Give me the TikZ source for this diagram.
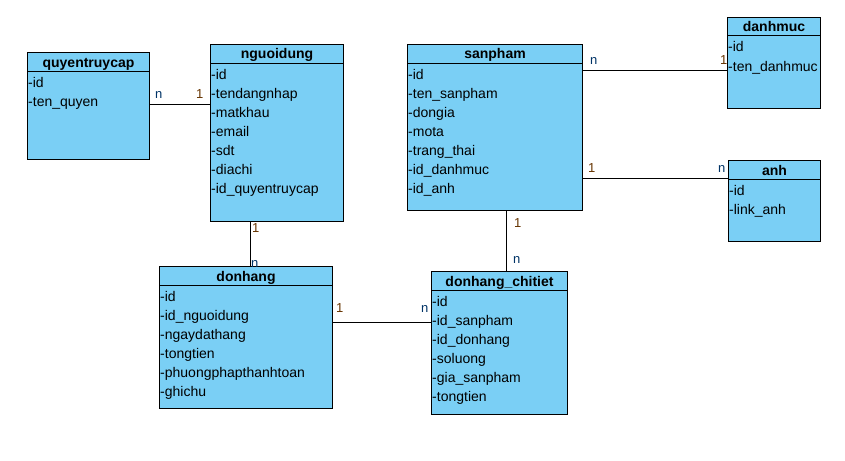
\documentclass[tikz,border=0pt]{standalone}
\usepackage{fontspec}
\setmainfont{Liberation Sans}
\definecolor{efill}{RGB}{122,207,245}
\definecolor{mulone}{RGB}{102,51,0}
\definecolor{muln}{RGB}{0,51,102}
\tikzset{
  ebox/.style={draw=black, line width=1pt, fill=efill, inner sep=0pt},
  etitle/.style={inner sep=0pt, font=\fontsize{14}{16}\selectfont\bfseries},
  eattr/.style={inner sep=0pt, font=\fontsize{14}{16}\selectfont},
  conn/.style={draw=black, line width=1pt},
  mone/.style={inner sep=0pt, anchor=base west, text=mulone, font=\fontsize{13}{15}\selectfont},
  mn/.style={inner sep=0pt, anchor=base west, text=muln, font=\fontsize{13}{15}\selectfont},
}
\newcommand\entitybox[7]{%
  \node[ebox, minimum width=#4pt, minimum height=#5pt, anchor=north west] (#1) at (#2,#3) {};
  \draw[line width=1pt] ([yshift=-19pt]#1.north west) -- ([yshift=-19pt]#1.north east);
  \node[etitle, anchor=base] (#1-t) at ([yshift=-15pt]#1.north) {#6};
  \foreach \a [count=\i] in {#7}
    \node[eattr, anchor=base west] (#1-\i) at ([xshift=1pt, yshift={-16pt-19pt*\i}]#1.north west) {\a};
}
\begin{document}
\begin{tikzpicture}[x=1pt, y=-1pt]
\useasboundingbox (0,0) rectangle (845,460);

\entitybox{q}{27}{52}{122}{107}{quyentruycap}{-id,-ten\_quyen}
\entitybox{ng}{210}{44}{133}{177}{nguoidung}{-id,-tendangnhap,-matkhau,-email,-sdt,-diachi,-id\_quyentruycap}
\entitybox{sp}{407}{44}{175}{166}{sanpham}{-id,-ten\_sanpham,-dongia,-mota,-trang\_thai,-id\_danhmuc,-id\_anh}
\entitybox{dm}{727}{17}{93}{91}{danhmuc}{-id,-ten\_danhmuc}
\entitybox{anh}{728}{160}{92}{81}{anh}{-id,-link\_anh}
\entitybox{dh}{159}{266}{173}{142}{donhang}{-id,-id\_nguoidung,-ngaydathang,-tongtien,-phuongphapthanhtoan,-ghichu}
\entitybox{ct}{431}{271}{136}{143}{donhang\_chitiet}{-id,-id\_sanpham,-id\_donhang,-soluong,-gia\_sanpham,-tongtien}

% connectors
\draw[conn] (q.east |- 0,104) -- (ng.west |- 0,104);
\draw[conn] (sp.east |- 0,70) -- (dm.west |- 0,70);
\draw[conn] (sp.east |- 0,178) -- (anh.west |- 0,178);
\draw[conn] (250,0 |- ng.south) -- (250,0 |- dh.north);
\draw[conn] (506,0 |- sp.south) -- (506,0 |- ct.north);
\draw[conn] (dh.east |- 0,322) -- (ct.west |- 0,322);

% multiplicities
\node[mn] (l1) at (155,98) {n};
\node[mone] (l2) at (196,98) {1};
\node[mn] (l3) at (590,64) {n};
\node[mone] (l4) at (720,64) {1};
\node[mone] (l5) at (588,172) {1};
\node[mn] (l6) at (718,172) {n};
\node[mone] (l7) at (252,232) {1};
\node[mn] (l8) at (251,267) {n};
\node[mone] (l9) at (514,227) {1};
\node[mn] (l10) at (513,263) {n};
\node[mone] (l11) at (336,312) {1};
\node[mn] (l12) at (421,312) {n};
\end{tikzpicture}
\end{document}
